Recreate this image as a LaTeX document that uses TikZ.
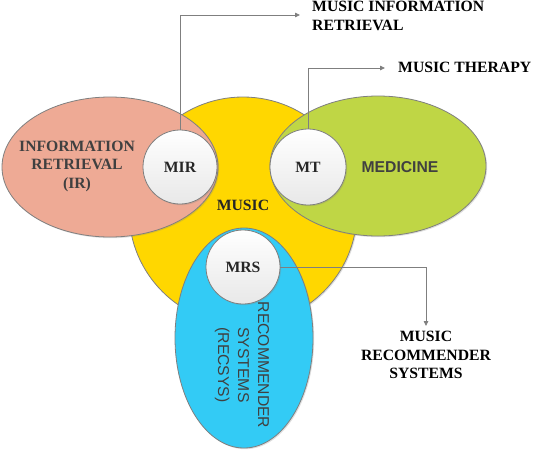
\documentclass[tikz,border=0pt]{standalone}
\usepackage{fontspec}
\setmainfont{Liberation Serif}
\setsansfont{Liberation Sans}
\usetikzlibrary{shapes.geometric,arrows.meta,shadows}
\definecolor{salmon}{HTML}{EEAA95}
\definecolor{musicyellow}{HTML}{FFD700}
\definecolor{medgreen}{HTML}{BFD645}
\definecolor{recblue}{HTML}{33CBF5}
\definecolor{edgegray}{HTML}{7F7F7F}
\definecolor{txtgray}{HTML}{404040}
\tikzset{
  area/.style={draw=edgegray, line width=0.8pt, inner sep=0pt,
    drop shadow={shadow xshift=1.2pt, shadow yshift=-1.2pt, opacity=0.25}},
  blob/.style={area, ellipse},
  subcircle/.style={area, circle, minimum size=#1, top color=white, bottom color=black!9,
    font=\fontsize{15.7}{18}\selectfont\bfseries, text=black!85},
  serifbold/.style={font=\fontsize{15.7}{18.5}\selectfont\bfseries, align=center, inner sep=0pt},
  sanslabel/.style={font=\fontsize{15.7}{20}\selectfont\sffamily, align=center, inner sep=0pt},
  conn/.style={draw=edgegray, line width=0.8pt,
    -{Triangle[length=5pt,width=4.5pt]}},
}
\begin{document}
\begin{tikzpicture}[x=1pt,y=-1pt]
\useasboundingbox (0,0) rectangle (551,450);
% big areas
\node[area, circle, fill=musicyellow, minimum size=228pt] (music) at (243,211) {};
\node[blob, fill=salmon, minimum width=216pt, minimum height=140pt] (ir) at (110,167) {};
\node[blob, fill=medgreen, minimum width=216pt, minimum height=140pt] (med) at (378,166) {};
\node[blob, fill=recblue, minimum width=138pt, minimum height=220pt] (rec) at (244,338) {};
% area labels
\node[serifbold, text=txtgray] (irlbl) at (77,166) {INFORMATION\\RETRIEVAL\\(IR)};
\node[serifbold, text=black!85] (musiclbl) at (243,205) {MUSIC};
\node[sanslabel, font=\fontsize{15.7}{20}\selectfont\sffamily\bfseries, text=txtgray] (medlbl) at (400,167) {MEDICINE};
\node[sanslabel, text=txtgray, rotate=-90] (reclbl) at (242,365) {RECOMMENDER\\SYSTEMS\\(RECSYS)};
% intersection circles
\node[subcircle=74pt] (mir) at (180,167) {MIR};
\node[subcircle=76pt] (mt) at (308,167) {MT};
\node[subcircle=74pt] (mrs) at (243,267) {MRS};
% outer labels
\node[serifbold, align=left, anchor=north west, text=black] (mirout) at (312,1) {MUSIC INFORMATION\\RETRIEVAL};
\node[serifbold, anchor=west, text=black] (mtout) at (398,67.5) {MUSIC THERAPY};
\node[serifbold, anchor=north, text=black] (mrsout) at (426,331) {MUSIC\\RECOMMENDER\\SYSTEMS};
\coordinate (mirend) at (300,15);
\coordinate (mtend) at (385,68);
\coordinate (mrsend) at (426,326);
% connectors
\draw[conn] (mir.north) |- (mirend);
\draw[conn] (mt.north) |- (mtend);
\draw[conn] (mrs.east) -| (mrsend);
\end{tikzpicture}
\end{document}
